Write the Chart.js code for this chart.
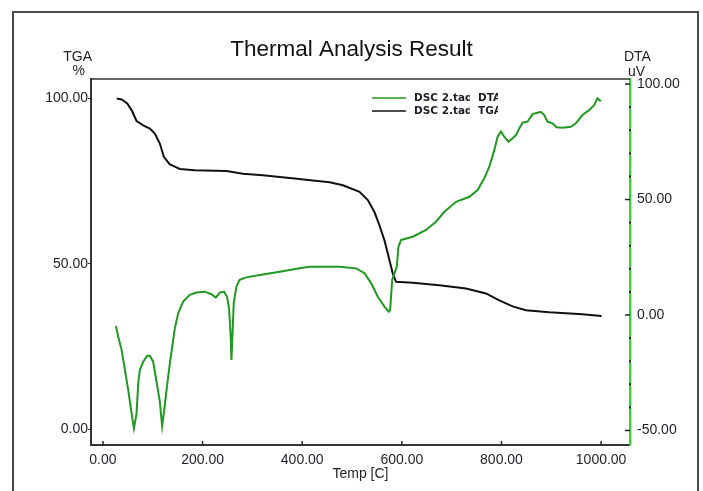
<!DOCTYPE html>
<html><head><meta charset="utf-8">
<script src="https://cdn.jsdelivr.net/npm/chart.js@4"></script>
<style>html,body{margin:0;padding:0;background:#fff;}</style>
</head><body>
<canvas id="c" width="703" height="491"></canvas>
<script>
// ---- data ----
const tgaTemp = [27.5,37.5,48.7,57.5,67.5,80.8,94.2,104.2,114.2,122.2,134.3,144.3,154.3,184.4,247.9,281.2,321.2,354.7,384.8,421.4,455,481.6,515,531.7,545,555,565,571.8,581.8,588.5,621.8,675.4,728.8,768.9,795.6,822.4,849,895.8,962.5,1001];
const tgaValues = [99.9,99.6,98.4,96.4,93.1,91.8,90.8,89.3,86.3,82.3,80.0,79.3,78.6,78.2,78.0,77.2,76.7,76.2,75.7,75.1,74.6,73.7,71.7,69.2,65.6,61.6,57.1,53.1,47.0,44.5,44.2,43.5,42.5,41.0,38.9,37.1,35.9,35.3,34.7,34.2];
const dtaTemp = [26,30.7,37.5,44.1,50.7,57.5,62.1,67.5,70.8,74.1,80.8,88.8,94.2,100.8,107.6,114.2,118.8,122.2,127.6,134.3,144.3,151,161,174.3,187.8,204.4,217.8,226.5,234.5,243.1,249.1,253.1,256.5,257.9,259.9,262.5,267.9,274.5,287.9,314.6,354.7,394.8,414.8,474.9,508.4,525,538.5,551.7,565.1,573.7,576.5,580.6,589.8,593.2,598.6,621.8,648.6,668.5,685.4,708.8,735.5,752.1,765.5,775.6,785.6,792.2,799,805.6,814.2,822.2,829,835.7,842.3,852.3,862.3,872.3,879,885.8,892.4,902.4,910.4,922.4,939.3,949.3,962.5,975.9,986,992.6,999.4];
const dtaValues = [-4.8,-9.4,-15.2,-23.8,-32.5,-42.6,-49.1,-42.6,-29.6,-23.8,-20.2,-17.7,-17.7,-20.2,-28.9,-37.5,-48.1,-42.6,-32.5,-20.9,-5.8,0.7,5.8,8.7,9.7,10.1,9.0,7.5,9.7,10.1,7.9,2.9,-9.4,-19.5,-9.4,5.1,12.3,15.2,16.3,17.3,18.7,20.2,20.9,20.9,20.2,18.1,13.7,7.9,3.6,1.4,2.2,15.2,20.9,29.6,32.5,33.9,36.8,40.4,44.7,49.0,51.2,54.1,59.2,64.2,71.4,77.2,79.4,77.2,75.0,76.5,77.9,80.8,83.3,83.7,87.0,87.6,88.0,86.6,83.7,83.0,81.3,81.1,81.5,83.0,86.6,88.7,90.9,93.8,92.6];
const xTicks = [0,200,400,600,800,1000];
const tgaTicks = [0,50,100];
const dtaTicks = [-50,0,50,100];
const seriesFiles = ['DSC 2.tad','DSC 2.tad'];
const seriesKinds = ['DTA','TGA'];
const titleText = 'Thermal Analysis Result';

const FONT = '"Liberation Sans", Arial, sans-serif';
const TXT = '#1e1e28';
const GREEN = '#1f991f';
const AXISGREEN = '#22e022';

const decor = {
  id:'decor',
  afterDraw(chart){
    const ctx = chart.ctx, a = chart.chartArea;
    const sx = chart.scales.x, sy1 = chart.scales.y1;
    ctx.save();
    // outer frame
    ctx.strokeStyle = '#4a4a4a'; ctx.lineWidth = 2;
    ctx.beginPath(); ctx.moveTo(13,491); ctx.lineTo(13,12); ctx.lineTo(698,12); ctx.lineTo(698,491); ctx.stroke();
    // top frame of plot
    ctx.strokeStyle = '#333'; ctx.lineWidth = 1.5;
    ctx.beginPath(); ctx.moveTo(a.left, a.top); ctx.lineTo(a.right, a.top); ctx.stroke();
    // x ticks inward
    ctx.lineWidth = 1.5; ctx.strokeStyle = '#222';
    xTicks.forEach(v=>{const p=sx.getPixelForValue(v); ctx.beginPath(); ctx.moveTo(p,a.bottom); ctx.lineTo(p,a.bottom-4); ctx.stroke();});
    // right axis ticks
    dtaTicks.forEach(v=>{const p=sy1.getPixelForValue(v); ctx.beginPath(); ctx.moveTo(a.right-5,p); ctx.lineTo(a.right,p); ctx.stroke();});
    ctx.fillStyle = '#222';
    for(let v=-50; v<=100; v+=10){ if(v%50===0) continue; const p=sy1.getPixelForValue(v); ctx.fillRect(a.right-1,p-1,2,2); }
    // title
    ctx.fillStyle = '#111'; ctx.font = '22.5px '+FONT; ctx.textAlign='center'; ctx.textBaseline='alphabetic';
    ctx.fillText(titleText, 351.5, 56);
    // axis unit labels
    ctx.fillStyle = TXT; ctx.font = '14px '+FONT;
    ctx.textAlign='right'; ctx.fillText('TGA', 92, 61); ctx.fillText('%', 85, 75);
    ctx.textAlign='left'; ctx.fillText('DTA', 624, 61); ctx.fillText('uV', 628, 76);
    // legend (two clipped columns, as in the reference)
    const cols = [GREEN, '#111'];
    const ys = [98, 111];
    ctx.font = 'bold 10.5px "DejaVu Sans", sans-serif'; ctx.textBaseline='middle'; ctx.textAlign='left';
    for(let i=0;i<2;i++){
      ctx.strokeStyle = cols[i]; ctx.lineWidth = 1.5;
      ctx.beginPath(); ctx.moveTo(372, ys[i]); ctx.lineTo(406, ys[i]); ctx.stroke();
      ctx.fillStyle = TXT;
      ctx.save(); ctx.beginPath(); ctx.rect(410, 88, 60, 30); ctx.clip();
      ctx.fillText(seriesFiles[i], 414, ys[i]); ctx.restore();
      ctx.save(); ctx.beginPath(); ctx.rect(476, 88, 22, 30); ctx.clip();
      ctx.fillText(seriesKinds[i], 478, ys[i]); ctx.restore();
    }
    ctx.restore();
  }
};

new Chart(document.getElementById('c'), {
  type:'line',
  data:{ datasets:[
    {label:seriesFiles[0]+' '+seriesKinds[0], data: dtaTemp.map((t,i)=>({x:t,y:dtaValues[i]})), yAxisID:'y1', borderColor:GREEN, borderWidth:2, pointRadius:0, tension:0, fill:false},
    {label:seriesFiles[1]+' '+seriesKinds[1], data: tgaTemp.map((t,i)=>({x:t,y:tgaValues[i]})), yAxisID:'y', borderColor:'#111', borderWidth:2, pointRadius:0, tension:0, fill:false}
  ]},
  options:{
    responsive:false, animation:false, devicePixelRatio:1,
    layout:{padding:{top:79,left:0,right:0,bottom:0}},
    plugins:{legend:{display:false}, title:{display:false}, tooltip:{enabled:false}},
    scales:{
      x:{type:'linear', position:'bottom', min:-24, max:1058,
         afterFit:s=>{s.height=46;},
         afterBuildTicks:s=>{s.ticks = xTicks.map(v=>({value:v}));},
         ticks:{callback:v=>Number(v).toFixed(2), font:{family:FONT,size:14}, color:TXT, padding:7, maxRotation:0, autoSkip:false},
         grid:{drawOnChartArea:false, drawTicks:false},
         border:{color:'#333', width:2},
         title:{display:true, text:'Temp [C]', font:{family:FONT,size:14}, color:TXT, padding:{top:0,bottom:8}}},
      y:{type:'linear', position:'left', min:-4.8, max:105.8,
         afterFit:s=>{s.width=91;},
         afterBuildTicks:s=>{s.ticks = tgaTicks.map(v=>({value:v}));},
         ticks:{callback:v=>Number(v).toFixed(2), font:{family:FONT,size:14}, color:TXT, padding:0},
         grid:{drawOnChartArea:false, drawTicks:true, tickLength:3, tickColor:'#333'},
         border:{color:'#333', width:2}},
      y1:{type:'linear', position:'right', min:-56.3, max:102.2,
         afterFit:s=>{s.width=73;},
         afterBuildTicks:s=>{s.ticks = dtaTicks.map(v=>({value:v}));},
         ticks:{callback:v=>Number(v).toFixed(2), font:{family:FONT,size:14}, color:TXT, padding:7},
         grid:{drawOnChartArea:false, drawTicks:false},
         border:{color:AXISGREEN, width:2}}
    }
  },
  plugins:[decor]
});
</script>
</body></html>
